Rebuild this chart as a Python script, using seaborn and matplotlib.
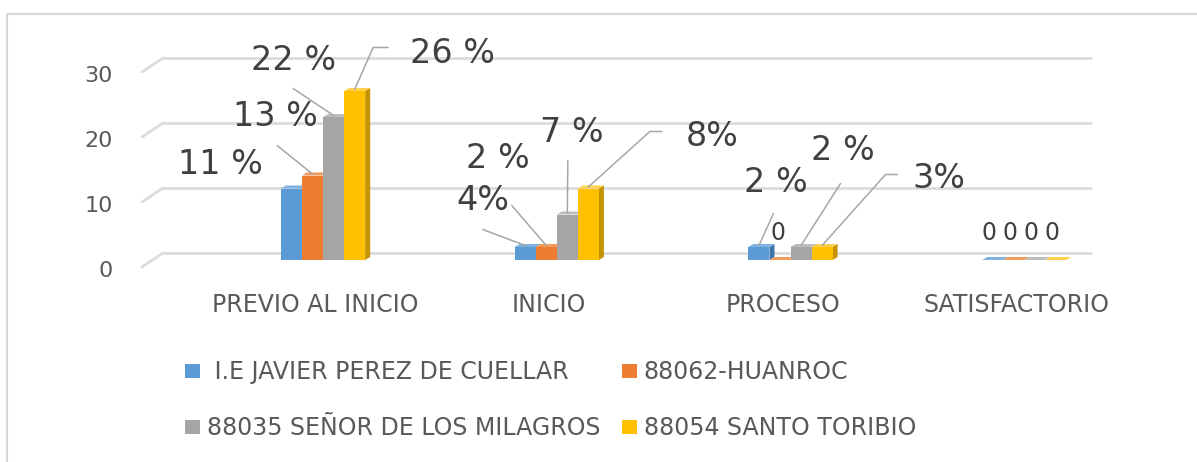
import math
import numpy as np
import pandas as pd
import matplotlib
matplotlib.use("Agg")
import matplotlib.pyplot as plt
import matplotlib.transforms as mtransforms
from matplotlib.patches import Polygon, Rectangle, Patch
import seaborn as sns

# ---------------- data ----------------
categories = ["PREVIO AL INICIO", "INICIO", "PROCESO", "SATISFACTORIO"]
series_names = ["I.E JAVIER PEREZ DE CUELLAR", "88062-HUANROC",
                "88035 SEÑOR DE LOS MILAGROS", "88054 SANTO TORIBIO"]
javier_perez = [11, 2, 2, 0]
huanroc = [13, 2, 0, 0]
senor_milagros = [22, 7, 2, 0]
santo_toribio = [26, 11, 2, 0]
javier_labels = ["11 %", "4%", "2 %", "0"]
huanroc_labels = ["13 %", "2 %", "0", "0"]
milagros_labels = ["22 %", "7 %", "2 %", "0"]
toribio_labels = ["26 %", "8%", "3%", "0"]
y_ticks = [0, 10, 20, 30]

series_values = [javier_perez, huanroc, senor_milagros, santo_toribio]
series_labels = [javier_labels, huanroc_labels, milagros_labels, toribio_labels]

# ---------------- style / layout ----------------
colors = ["#5B9BD5", "#ED7D31", "#A5A5A5", "#FFC000"]
side_colors = ["#3F75A8", "#B65A1E", "#7C7C7C", "#C49300"]
top_colors = ["#7FB2E0", "#F29A5C", "#BDBDBD", "#FFD04D"]
TXT = "#404040"
AX_TXT = "#595959"
GRID = "#dcdcdc"

# label centre offsets (pixels, relative to bar top centre), per series x category
text_off = [
    [(-71.5, 23.5), (-42.5, 47), (16.5, 64), (-4, 27)],
    [(-37.5, 59.5), (-48.5, 89), (-1.5, 27), (-4, 27)],
    [(-40.5, 57), (4.5, 81.5), (41.5, 96), (-4, 27)],
    [(97.5, 38), (123.5, 52.5), (116.5, 69), (-4, 27)],
]
# leader line start offsets (pixels) and optional elbow corner
lead_off = [
    [None, (-42.5, 16), (14.5, 32), None],
    [(-35.5, 28.5), (-34.5, 40), None, None],
    [(-40.5, 27), (0.5, 52.5), (39.5, 62), None],
    [(33.5, 42), (73.5, 55.5), (75.5, 71), None],
]
corner_off = [
    [None, None, None, None],
    [None, None, None, None],
    [None, None, None, None],
    [(18.5, 42), (61.5, 55.5), (63.5, 71), None],
]

W, H = 1197, 462
plt.rcParams['font.family'] = ['DejaVu Sans']
fig = plt.figure(figsize=(W / 100, H / 100), dpi=100)
fig.patch.set_facecolor("white")

ax_left, ax_right, ax_bottom, ax_top = 163, 1092, 260, 65
ax = fig.add_axes([ax_left / W, (H - ax_bottom) / H,
                   (ax_right - ax_left) / W, (ax_bottom - ax_top) / H])

rows = []
for name, vals in zip(series_names, series_values):
    for c, v in zip(categories, vals):
        rows.append({"nivel": c, "valor": v, "ie": name})
df = pd.DataFrame(rows)

sns.barplot(data=df, x="nivel", y="valor", hue="ie", order=categories,
            hue_order=series_names, palette=colors, saturation=1,
            width=0.36, gap=0, errorbar=None, legend=False, ax=ax)

xlim = (-0.685, 3.29)
ax.set_xlim(*xlim)
ax.set_ylim(0, 30)
ax.set_yticks(y_ticks)
ax.set_xlabel("")
ax.set_ylabel("")
for s in ax.spines.values():
    s.set_visible(False)
ax.grid(False)
ax.set_facecolor("none")

ax.tick_params(axis="y", length=0, pad=36, labelsize=16, labelcolor=AX_TXT)
ax.tick_params(axis="x", length=0, pad=24, labelsize=17, labelcolor=AX_TXT)
for lbl in ax.get_yticklabels():
    lbl.set_transform(lbl.get_transform() +
                      mtransforms.ScaledTranslation(0, -9 / 100, fig.dpi_scale_trans))
for lbl in ax.get_xticklabels():
    lbl.set_transform(lbl.get_transform() +
                      mtransforms.ScaledTranslation(-8 / 100, 0, fig.dpi_scale_trans))

# back-wall gridlines (shifted up) with 3D floor diagonals
grid_trans = (mtransforms.blended_transform_factory(ax.transAxes, ax.transData) +
              mtransforms.ScaledTranslation(0, 7 / 100, fig.dpi_scale_trans))
for v in y_ticks:
    ax.plot([0, 1], [v, v], transform=grid_trans, color=GRID, lw=2.0,
            zorder=0.5, clip_on=False, solid_capstyle="butt")
    ax.annotate("", xy=(0, v), xycoords=grid_trans, xytext=(-21, -14),
                textcoords="offset pixels",
                arrowprops=dict(arrowstyle="-", color=GRID, lw=2.0,
                                shrinkA=0, shrinkB=0), zorder=0.5)

# 3D faces for each bar
px_per_x = (ax_right - ax_left) / (xlim[1] - xlim[0])
px_per_y = (ax_bottom - ax_top) / 30.0
ddx = 5 / px_per_x
ddy = 3 / px_per_y
for i, cont in enumerate(ax.containers):
    for j, bar in enumerate(cont):
        bar.set_zorder(2 + i * 0.1)
        bar.set_edgecolor("none")
        x0 = bar.get_x()
        x1 = x0 + bar.get_width()
        y1 = bar.get_height()
        side = Polygon([(x1, 0), (x1 + ddx, ddy), (x1 + ddx, y1 + ddy), (x1, y1)],
                       closed=True, facecolor=side_colors[i], edgecolor="none",
                       zorder=2 + i * 0.1 - 0.01)
        top = Polygon([(x0, y1), (x0 + ddx, y1 + ddy), (x1 + ddx, y1 + ddy), (x1, y1)],
                      closed=True, facecolor=top_colors[i], edgecolor="none",
                      zorder=2 + i * 0.1 - 0.005)
        ax.add_patch(side)
        ax.add_patch(top)

        bx = x0 + bar.get_width() / 2
        txt = series_labels[i][j]
        big = txt != "0"
        tdx, tdy = text_off[i][j]
        ax.annotate(txt, xy=(bx, y1), xycoords="data", xytext=(tdx, tdy),
                    textcoords="offset pixels", ha="center", va="center",
                    fontsize=24 if big else 17, color=TXT, zorder=5,
                    annotation_clip=False)
        lo = lead_off[i][j]
        if lo is not None:
            co = corner_off[i][j]
            if co is None:
                cs = "arc3"
            else:
                angB = math.degrees(math.atan2(co[1], co[0]))
                cs = f"angle,angleA=0,angleB={angB:.2f},rad=0"
            ax.annotate("", xy=(bx, y1 + ddy * 0.5), xycoords="data", xytext=lo,
                        textcoords="offset pixels", annotation_clip=False,
                        arrowprops=dict(arrowstyle="-", color="#a6a6a6", lw=1.1,
                                        shrinkA=0, shrinkB=0, connectionstyle=cs),
                        zorder=4)

# legend (row-major order like the reference)
handles = [Patch(facecolor=c, edgecolor="none") for c in colors]
leg_labels = [" " + series_names[0], series_names[1], series_names[2], series_names[3]]
order = [0, 2, 1, 3]
fig.legend([handles[k] for k in order], [leg_labels[k] for k in order], ncol=2,
           loc="upper left", bbox_to_anchor=(185 / W, 1 - 360 / H),
           bbox_transform=fig.transFigure, frameon=False, fontsize=17,
           handlelength=0.63, handleheight=0.55, handletextpad=0.3,
           columnspacing=0.9, labelspacing=1.36, borderpad=0, borderaxespad=0,
           labelcolor=AX_TXT)

# chart frame (top and left visible)
fig.add_artist(Rectangle((7 / W, -0.1), 1.2, 1.1 - 14 / H + 0.0,
                         transform=fig.transFigure, fill=False,
                         edgecolor="#d9d9d9", lw=1.5))

fig.savefig("out.png", dpi=100, facecolor="white")
